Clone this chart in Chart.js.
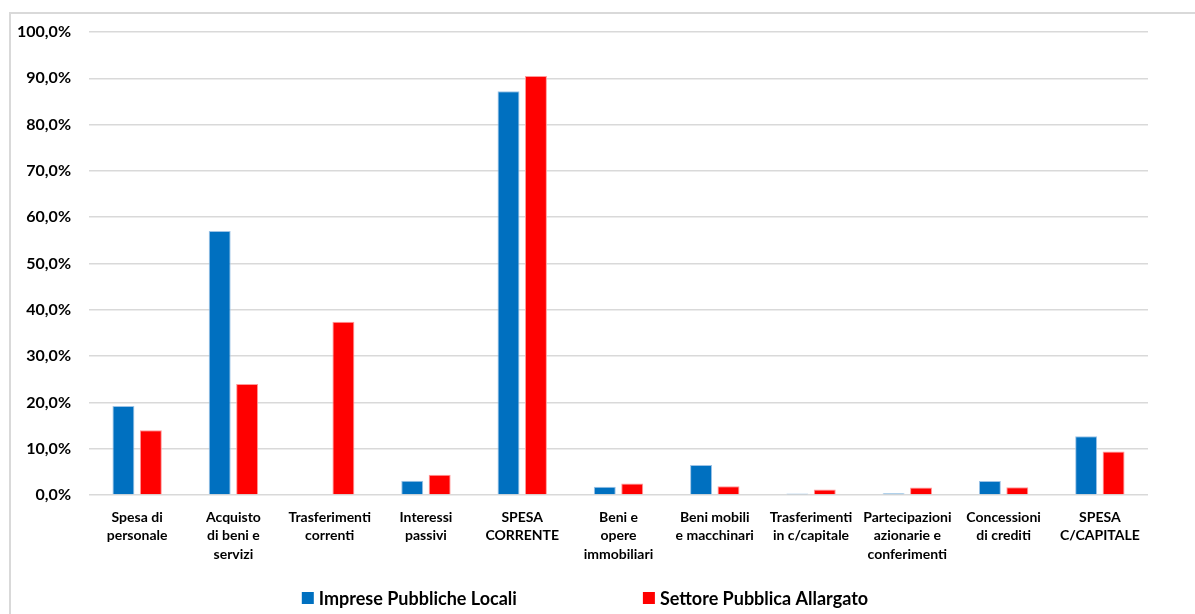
<!DOCTYPE html>
<html>
<head>
<meta charset="utf-8">
<script src="https://cdn.jsdelivr.net/npm/chart.js@4"></script>
<style>
  html, body { margin: 0; padding: 0; background: #fff; overflow: hidden; }
  #frame {
    position: absolute; left: 9px; top: 12px; width: 1186px; height: 610px;
    border-top: 2px solid #d9d9d9; border-left: 2px solid #d9d9d9;
  }
  #wrap { position: absolute; left: 0px; top: 0px; width: 1184px; height: 600px; }
</style>
</head>
<body>
<div id="frame"><div id="wrap"><canvas id="myChart"></canvas></div></div>
<script>
const ctx = document.getElementById('myChart').getContext('2d');

const categories = [
    ["Spesa di", "personale"],
    ["Acquisto", "di beni e", "servizi"],
    ["Trasferimenti", "correnti"],
    ["Interessi", "passivi"],
    ["SPESA", "CORRENTE"],
    ["Beni e", "opere", "immobiliari"],
    ["Beni mobili", "e macchinari"],
    ["Trasferimenti", "in c/capitale"],
    ["Partecipazioni", "azionarie e", "conferimenti"],
    ["Concessioni", "di crediti"],
    ["SPESA", "C/CAPITALE"],
]

// percentuali
const impreseLocali = [19.2, 57.0, 0, 3.1, 87.2, 1.8, 6.5, 0.3, 0.4, 3.0, 12.7]
const settoreAllargato = [14.0, 24.0, 37.4, 4.4, 90.5, 2.5, 1.9, 1.2, 1.6, 1.7, 9.4]

const yTicks = [0, 10, 20, 30, 40, 50, 60, 70, 80, 90, 100]

const font = "Lato, 'Open Sans', sans-serif";

// legenda disegnata a mano: Chart.js usa lo stesso padding in orizzontale e in verticale
const bottomLegend = {
    id: "bottomLegend",
    afterDraw(chart, args, opts) {
        const c = chart.ctx;
        c.save();
        c.font = "bold " + opts.size + "px " + font;
        c.textBaseline = "middle";
        const items = chart.data.datasets.map(ds => ({
            text: ds.label,
            color: ds.backgroundColor,
            w: opts.box + opts.boxGap + c.measureText(ds.label).width
        }));
        const total = items.reduce((s, it) => s + it.w, 0) + opts.gap * (items.length - 1);
        let x = opts.centerX - total / 2;
        items.forEach(it => {
            c.fillStyle = it.color;
            c.fillRect(x, opts.y - opts.box / 2, opts.box, opts.box);
            c.fillStyle = "#000";
            c.fillText(it.text, x + opts.box + opts.boxGap, opts.y + 1);
            x += it.w + opts.gap;
        });
        c.restore();
    }
};

const data = {
    labels: categories,
    datasets: [{
        label: "Imprese Pubbliche Locali",
        data: impreseLocali,
        backgroundColor: "#0070c0",
        borderColor: "#9dc3e6",
        borderWidth: 1,
        categoryPercentage: 0.57,
        barPercentage: 0.8
    },
    {
        label: "Settore Pubblica Allargato",
        data: settoreAllargato,
        backgroundColor: "#ff0000",
        borderColor: "#ff9999",
        borderWidth: 1,
        categoryPercentage: 0.57,
        barPercentage: 0.8
    }],
};

const config = {
    type: "bar",
    data: data,
    plugins: [bottomLegend],
    options: {
        responsive: true,
        maintainAspectRatio: false,
        animation: false,
        layout: {
            padding: { top: 18, right: 47, left: 0, bottom: 0 }
        },
        plugins: {
            tooltip: { enabled: false },
            legend: { display: false },
            bottomLegend: { size: 18, box: 12, boxGap: 5, gap: 126, centerX: 574, y: 584 }
        },
        scales: {
            x: {
                grid: { display: false },
                border: { display: false },
                ticks: {
                    autoSkip: false,
                    maxRotation: 0,
                    minRotation: 0,
                    padding: 5,
                    color: "#000",
                    font: { family: font, size: 14, weight: "bold", lineHeight: 1.33 }
                },
                afterFit: function(scale) { scale.height = 119; }
            },
            y: {
                min: 0,
                max: 100,
                afterBuildTicks: function(scale) {
                    scale.ticks = yTicks.map(v => ({ value: v }));
                },
                grid: { color: "#d9d9d9", lineWidth: 1.5, drawTicks: false },
                border: { display: false },
                ticks: {
                    padding: 18,
                    color: "#000",
                    font: { family: font, size: 16, weight: "bold" },
                    callback: function(value) {
                        return value.toFixed(1).replace(".", ",") + "%";
                    }
                },
                afterFit: function(scale) {
                    scale.width = 78;
                    scale.paddingTop = 10;
                    scale.paddingBottom = 10;
                }
            }
        }
    }
}

const myChart = new Chart(ctx, config);
</script>
</body>
</html>
